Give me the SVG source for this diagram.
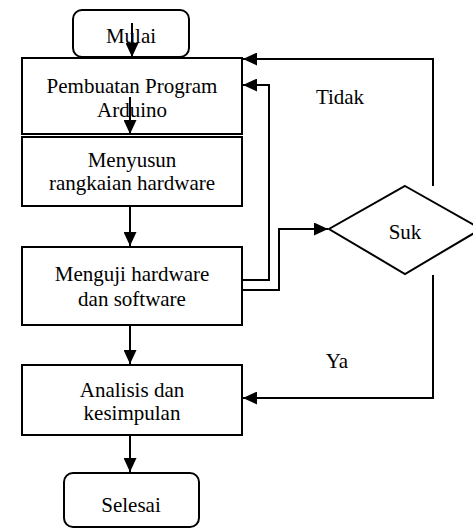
<svg xmlns="http://www.w3.org/2000/svg" width="473" height="530" viewBox="0 0 473 530">
<style>
.b{fill:#fff;stroke:#000;stroke-width:2}
.t{font-family:"Liberation Serif","Times New Roman",serif;font-size:21px;fill:#000;text-anchor:middle}
.c{fill:none;stroke:#000;stroke-width:2}
</style>
<defs>
<marker id="a" viewBox="0 0 14 13" refX="14" refY="6.5" markerWidth="14" markerHeight="13" markerUnits="userSpaceOnUse" orient="auto">
<path d="M0,0 L14,6.5 L0,13 z" fill="#000"/>
</marker>
</defs>
<rect width="473" height="530" fill="#fff"/>
<g id="mulai"><rect class="b" x="73" y="10" width="116" height="47" rx="9"/><text class="t" x="131" y="43">Mulai</text></g>
<g id="pembuatan"><rect class="b" x="22" y="58" width="220" height="76"/><text class="t" x="132" y="93">Pembuatan Program</text><text class="t" x="132" y="117">Arduino</text></g>
<g id="menyusun"><rect class="b" x="22" y="137" width="220" height="69"/><text class="t" x="132" y="167">Menyusun</text><text class="t" x="132" y="190">rangkaian hardware</text></g>
<g id="menguji"><rect class="b" x="22" y="247" width="220" height="78"/><text class="t" x="132" y="281">Menguji hardware</text><text class="t" x="132" y="306">dan software</text></g>
<g id="analisis"><rect class="b" x="22" y="365" width="220" height="70"/><text class="t" x="132" y="397">Analisis dan</text><text class="t" x="132" y="420">kesimpulan</text></g>
<g id="selesai"><rect class="b" x="64" y="473" width="135" height="54" rx="9"/><text class="t" x="131" y="512">Selesai</text></g>
<g id="suk"><polygon class="b" points="405,186 481,229 405,274 329,229"/><text class="t" x="405" y="239">Suk</text></g>
<g id="connectors">
<path class="c" d="M132,23 V57" marker-end="url(#a)"/>
<path class="c" d="M130,97 V134" marker-end="url(#a)"/>
<path class="c" d="M130,206 V246" marker-end="url(#a)"/>
<path class="c" d="M130,325 V364" marker-end="url(#a)"/>
<path class="c" d="M130,435 V472" marker-end="url(#a)"/>
<path class="c" d="M433,186 V59 H243" marker-end="url(#a)"/>
<path class="c" d="M243,280 H269 V85 H243" marker-end="url(#a)"/>
<path class="c" d="M243,290 H279 V229 H328" marker-end="url(#a)"/>
<path class="c" d="M433,275 V398 H243" marker-end="url(#a)"/>
</g>
<text class="t" x="340" y="104">Tidak</text>
<text class="t" x="337" y="368">Ya</text>
</svg>
